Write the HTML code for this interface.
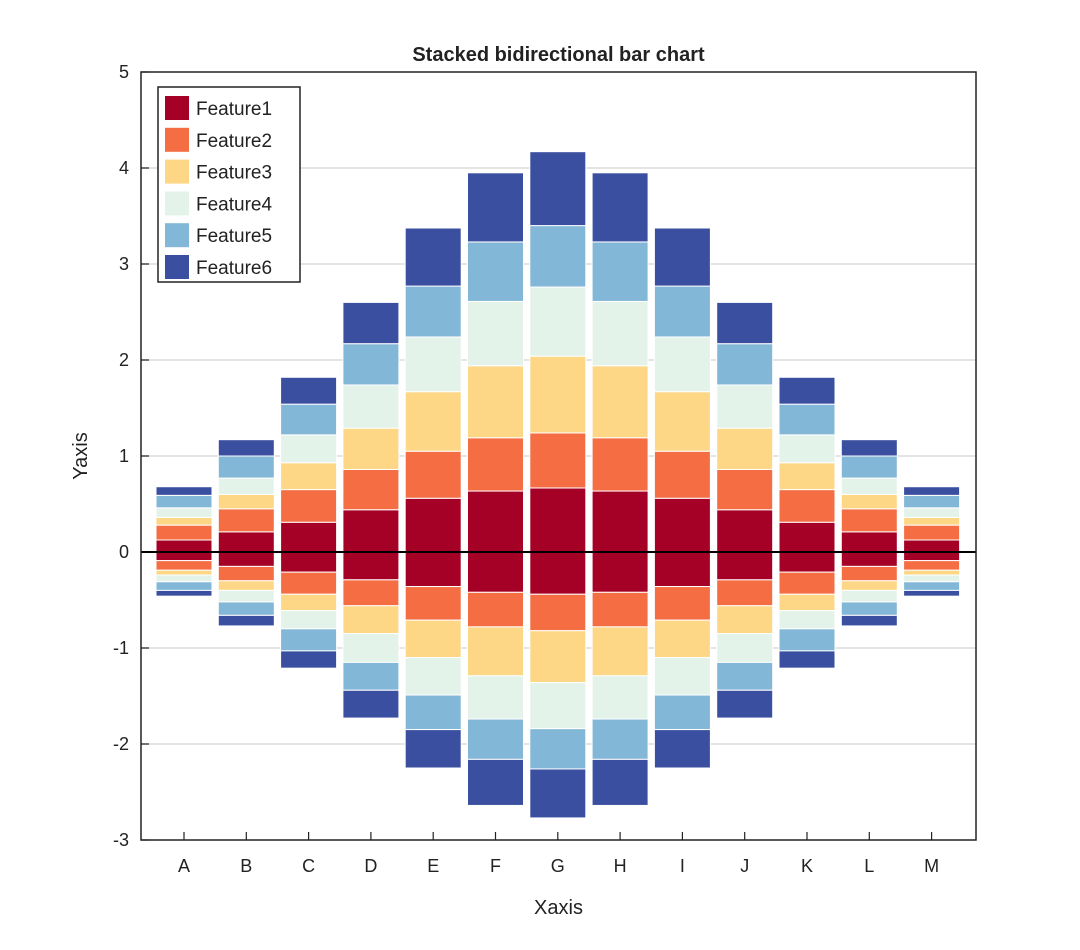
<!DOCTYPE html>
<html><head><meta charset="utf-8"><style>
body{margin:0;background:#fff;}
svg text{font-family:"Liberation Sans",Arial,sans-serif;fill:#222;}
</style></head><body>
<svg id="chart" width="1080" height="945"></svg>
<script>
const categories=["A","B","C","D","E","F","G","H","I","J","K","L","M"];
const features=["Feature1","Feature2","Feature3","Feature4","Feature5","Feature6"];
const colors=["#a50026","#f46d43","#fdd785","#e4f3e9","#83b7d7","#3a4fa0"];
// positive segment values per feature (per category)
const pos1=[0.125,0.21,0.31,0.44,0.56,0.635,0.667,0.635,0.56,0.44,0.31,0.21,0.125];
const pos2=[0.155,0.24,0.34,0.42,0.49,0.555,0.573,0.555,0.49,0.42,0.34,0.24,0.155];
const pos3=[0.08,0.15,0.28,0.43,0.62,0.75,0.80,0.75,0.62,0.43,0.28,0.15,0.08];
const pos4=[0.10,0.17,0.29,0.45,0.57,0.67,0.72,0.67,0.57,0.45,0.29,0.17,0.10];
const pos5=[0.13,0.23,0.32,0.43,0.53,0.62,0.64,0.62,0.53,0.43,0.32,0.23,0.13];
const pos6=[0.09,0.17,0.28,0.43,0.605,0.72,0.77,0.72,0.605,0.43,0.28,0.17,0.09];
const neg1=[0.09,0.15,0.21,0.29,0.36,0.42,0.44,0.42,0.36,0.29,0.21,0.15,0.09];
const neg2=[0.10,0.15,0.23,0.27,0.35,0.36,0.38,0.36,0.35,0.27,0.23,0.15,0.10];
const neg3=[0.05,0.10,0.17,0.29,0.39,0.51,0.54,0.51,0.39,0.29,0.17,0.10,0.05];
const neg4=[0.07,0.12,0.19,0.30,0.39,0.45,0.48,0.45,0.39,0.30,0.19,0.12,0.07];
const neg5=[0.09,0.14,0.23,0.29,0.36,0.42,0.42,0.42,0.36,0.29,0.23,0.14,0.09];
const neg6=[0.06,0.11,0.18,0.29,0.40,0.48,0.51,0.48,0.40,0.29,0.18,0.11,0.06];
const yTicks=[5,4,3,2,1,0,-1,-2,-3];
const posSeries=[pos1,pos2,pos3,pos4,pos5,pos6];
const negSeries=[neg1,neg2,neg3,neg4,neg5,neg6];

const svg=document.getElementById('chart');
const NS='http://www.w3.org/2000/svg';
const L=141,R=976,T=72,B=840,yMin=-3,yMax=5;
const y=v=>T+(yMax-v)/(yMax-yMin)*(B-T);
const step=(R-L)/categories.length*0.9965;
const x=i=>L+43+i*62.3;
const bw=56;
function mk(tag,attrs){const e=document.createElementNS(NS,tag);for(const k in attrs)e.setAttribute(k,attrs[k]);svg.appendChild(e);return e;}

yTicks.forEach(t=>{
 if(t!==yMax&&t!==yMin&&t!==0){const g=mk('line',{x1:L,x2:R,y1:y(t),y2:y(t),stroke:'#dcdcdc','stroke-width':1.5});
 
 }
 const tk=mk('line',{x1:L,x2:L+8,y1:y(t),y2:y(t),stroke:'#222','stroke-width':1.2});
 
 
 const lb=mk('text',{x:L-12,y:y(t)+6,'text-anchor':'end','font-size':18});
 lb.textContent=t;
 
 
});

categories.forEach((c,i)=>{
 let acc=0;
 posSeries.forEach((s,f)=>{const v0=acc;acc+=s[i];
  const r=mk('rect',{x:x(i)-bw/2,y:y(acc),width:bw,height:y(v0)-y(acc),fill:colors[f],stroke:'#fff','stroke-width':1});
  
  });
 acc=0;
 negSeries.forEach((s,f)=>{const v0=acc;acc-=s[i];
  const r=mk('rect',{x:x(i)-bw/2,y:y(v0),width:bw,height:y(acc)-y(v0),fill:colors[f],stroke:'#fff','stroke-width':1});
  
  });
 const tk=mk('line',{x1:x(i),x2:x(i),y1:B,y2:B-8,stroke:'#222','stroke-width':1.2});
 
 
 const lb=mk('text',{x:x(i),y:B+32,'text-anchor':'middle','font-size':18});
 lb.textContent=c;
 
 
});

const zl=mk('line',{x1:L,x2:R,y1:y(0),y2:y(0),stroke:'#000','stroke-width':2});


const fr=mk('rect',{x:L,y:T,width:R-L,height:B-T,fill:'none',stroke:'#222','stroke-width':1.5});



const title=mk('text',{x:(L+R)/2,y:61,'text-anchor':'middle','font-size':20,'font-weight':'bold'});
title.textContent='Stacked bidirectional bar chart';


const xt=mk('text',{x:(L+R)/2,y:914,'text-anchor':'middle','font-size':20});
xt.textContent='Xaxis';


const yt=mk('text',{x:0,y:0,'text-anchor':'middle','font-size':20,transform:'translate(87,456) rotate(-90)'});
yt.textContent='Yaxis';



const lg=mk('rect',{x:158,y:87,width:142,height:195,fill:'#fff',stroke:'#222','stroke-width':1.5});


features.forEach((f,k)=>{
 const yy=96+k*31.8;
 const sw=mk('rect',{x:165,y:yy,width:24,height:24,fill:colors[k]});
 
 
 const t=mk('text',{x:196,y:yy+19,'font-size':19});
 t.textContent=f;
 
 
});
</script>
</body></html>
